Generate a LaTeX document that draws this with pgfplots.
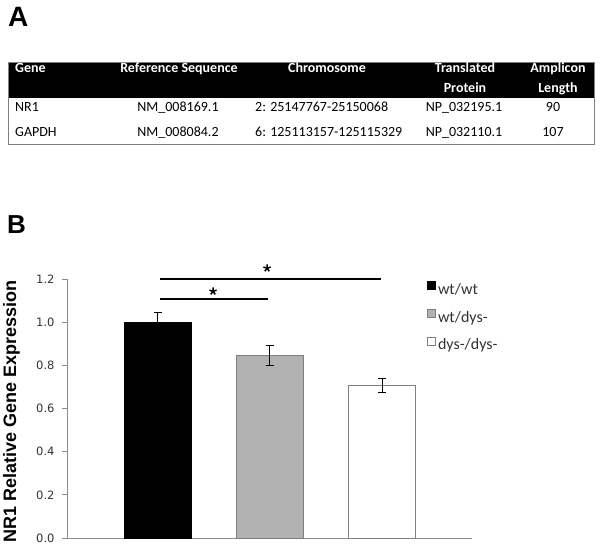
\documentclass[border=0pt]{standalone}
\usepackage{pgfplots}
\pgfplotsset{compat=1.18}
\usepackage{fontspec}
\setmainfont{Carlito}
\newfontfamily\arialf{Liberation Sans}
\newfontfamily\dejavu{DejaVu Sans}
\definecolor{barg}{HTML}{B2B2B2}
\definecolor{edgeg}{HTML}{7F7F7F}
\definecolor{axg}{HTML}{8C8C8C}
\definecolor{txtg}{HTML}{333333}
\begin{document}
\begin{tikzpicture}
\path[use as bounding box] (0,0) rectangle (602bp,550bp);
% ---------- Panel A ----------
\node[anchor=base west, inner sep=0pt, font=\arialf\bfseries\fontsize{28bp}{30bp}\selectfont] at (8bp,523bp) {A};
\fill[black] (8bp,452bp) rectangle (594bp,488bp);
\draw[gray, line width=0.8bp] (8bp,406bp) rectangle (594bp,488bp);
\begin{scope}[every node/.style={inner sep=0pt, font=\bfseries\fontsize{14bp}{16bp}\selectfont, text=white}]
\node[anchor=mid west] at (15bp,480bp) {Gene};
\node[anchor=mid] at (179bp,480bp) {Reference Sequence};
\node[anchor=mid] at (327bp,480bp) {Chromosome};
\node[anchor=mid] at (465bp,480bp) {Translated};
\node[anchor=mid] at (465bp,460bp) {Protein};
\node[anchor=mid] at (558bp,480bp) {Amplicon};
\node[anchor=mid] at (558bp,460bp) {Length};
\end{scope}
\begin{scope}[every node/.style={inner sep=0pt, font=\fontsize{14bp}{16bp}\selectfont, text=black}]
\node[anchor=mid west] at (15bp,441bp) {NR1};
\node[anchor=mid] at (178bp,441bp) {NM\_008169.1};
\node[anchor=mid west] at (255bp,441bp) {2: 25147767-25150068};
\node[anchor=mid] at (464bp,441bp) {NP\_032195.1};
\node[anchor=mid] at (553bp,441bp) {90};
\node[anchor=mid west] at (15bp,416bp) {GAPDH};
\node[anchor=mid] at (178bp,416bp) {NM\_008084.2};
\node[anchor=mid west] at (255bp,416bp) {6: 125113157-125115329};
\node[anchor=mid] at (464bp,416bp) {NP\_032110.1};
\node[anchor=mid] at (553bp,416bp) {107};
\end{scope}
% ---------- Panel B ----------
\node[anchor=base west, inner sep=0pt, font=\arialf\bfseries\fontsize{26bp}{28bp}\selectfont] at (7bp,316bp) {B};
\begin{axis}[
  at={(67bp,12bp)}, anchor=south west,
  scale only axis, width=405bp, height=259bp,
  xmin=-0.806, xmax=2.80, ymin=0, ymax=1.2,
  axis lines=left,
  axis line style={-, draw=axg, line width=0.8bp},
  clip=false,
  xtick=\empty,
  ytick={0,0.2,0.4,0.6,0.8,1.0,1.2},
  tick align=outside,
  major tick length=5bp,
  tick style={draw=axg, line width=0.8bp},
  yticklabel style={font=\dejavu\fontsize{11.5bp}{13bp}\selectfont, text=txtg, xshift=-4bp,
    /pgf/number format/.cd, fixed, fixed zerofill, precision=1, assume math mode=true},
  ylabel={NR1 Relative Gene Expression},
  ylabel style={font=\arialf\bfseries\fontsize{18bp}{20bp}\selectfont,
    at={(axis description cs:-0.1259,0.49)}, anchor=base, text=black},
  legend style={at={(axis description cs:0.889,0.992)}, anchor=north west,
    draw=none, fill=none, font=\fontsize{16bp}{18bp}\selectfont, text=txtg,
    row sep=11bp, inner sep=0pt, cells={anchor=west},
    /tikz/every even column/.append style={column sep=3bp}},
  legend image code/.code={\draw[#1, line width=0.8bp] (0bp,0bp) rectangle (8bp,8bp);},
]
\addplot[ybar, bar width=0.597, bar shift=0pt, fill=black, draw=black, line width=0.8bp,
  error bars/.cd, y dir=both, y explicit, error mark=-,
  error bar style={black, line width=0.8bp},
  error mark options={black, rotate=90, mark size=4bp, line width=0.8bp}]
  coordinates {(0,1.0) +- (0,0.047)};
\addplot[ybar, bar width=0.597, bar shift=0pt, fill=barg, draw=edgeg, line width=0.8bp,
  error bars/.cd, y dir=both, y explicit, error mark=-,
  error bar style={black, line width=0.8bp},
  error mark options={black, rotate=90, mark size=4bp, line width=0.8bp}]
  coordinates {(1,0.847) +- (0,0.046)};
\addplot[ybar, bar width=0.597, bar shift=0pt, fill=white, draw=edgeg, line width=0.8bp,
  error bars/.cd, y dir=both, y explicit, error mark=-,
  error bar style={black, line width=0.8bp},
  error mark options={black, rotate=90, mark size=4bp, line width=0.8bp}]
  coordinates {(2,0.707) +- (0,0.034)};
\legend{wt/wt, wt/dys-, dys-/dys-}
\addplot[black, line width=2bp, sharp plot, mark=none, forget plot]
  coordinates {(0.022,1.2) (1.99,1.2)};
\addplot[black, line width=2bp, sharp plot, mark=none, forget plot]
  coordinates {(0.022,1.107) (0.984,1.107)};
\addplot[black, only marks, mark=star, mark size=3.8bp, line width=1.5bp, forget plot]
  coordinates {(0.975,1.250) (0.494,1.143)};
\end{axis}
\end{tikzpicture}
\end{document}
